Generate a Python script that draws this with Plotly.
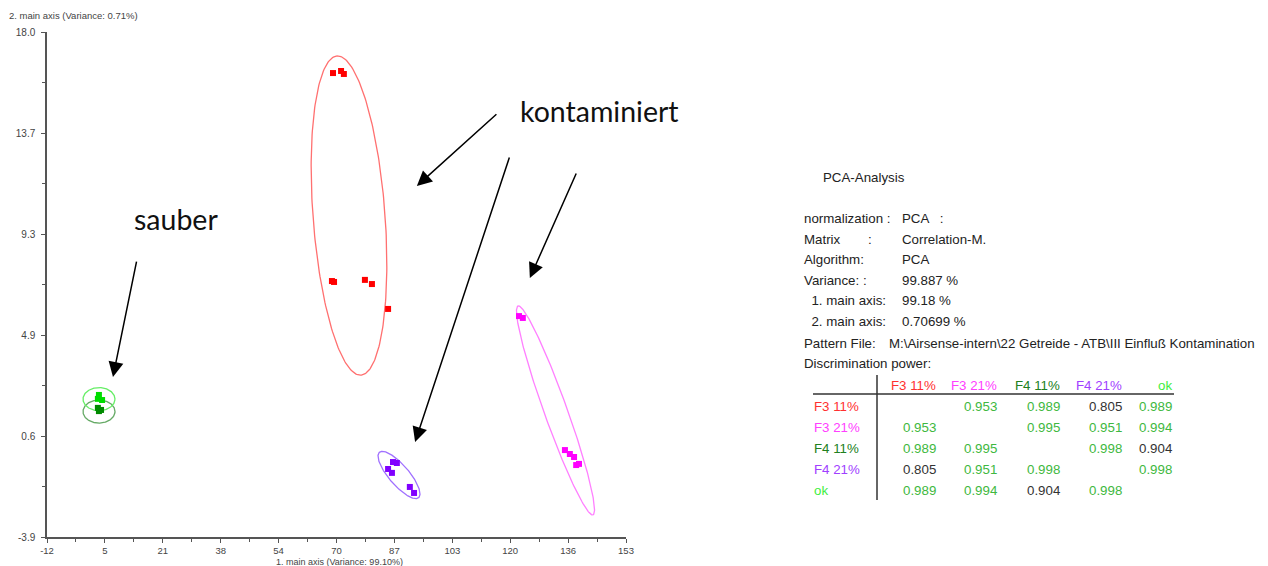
import numpy as np
import plotly.graph_objects as go

# ---------------- data ----------------
groups = ["F3 11%", "F3 21%", "F4 11%", "F4 21%", "ok"]

f3_11_x = [69.5, 71.8, 72.6, 69.2, 69.8, 78.6, 80.6, 85.2]
f3_11_y = [16.22, 16.31, 16.18, 7.20, 7.16, 7.25, 7.07, 5.99]

f3_21_x = [122.5, 123.6, 135.6, 137.0, 138.2, 138.8, 139.6]
f3_21_y = [5.68, 5.60, -0.13, -0.30, -0.43, -0.78, -0.73]

f4_11_x = [2.5, 3.4, 2.8]
f4_11_y = [1.70, 1.61, 1.56]

f4_21_x = [86.6, 87.7, 85.2, 86.3, 91.4, 92.6]
f4_21_y = [-0.65, -0.69, -0.95, -1.12, -1.73, -1.99]

ok_x = [2.8, 2.5, 3.7]
ok_y = [2.26, 2.09, 2.04]

# confidence ellipses: centre and two conjugate semi-diameters (data units)
ell_center_x = [74.06, 132.91, 2.82, 88.31, 2.82]
ell_center_y = [10.04, 1.59, 1.54, -1.21, 2.08]
ell_u = [(-3.42, 6.92), (-10.69, 4.53), (4.56, 0.0), (5.58, -0.985), (4.56, 0.0)]
ell_v = [(10.23, 0.117), (3.08, 0.169), (0.0, 0.50), (-2.16, -0.283), (0.0, 0.50)]

x_tick_labels = ["-12", "5", "21", "38", "54", "70", "87", "103", "120", "136", "153"]
y_tick_labels = ["-3.9", "0.6", "4.9", "9.3", "13.7", "18.0"]
x_range = [-12, 153]
y_range = [-3.9, 18.0]

info_labels = ["normalization :", "Matrix", "Algorithm:", "Variance: :",
               "  1. main axis:", "  2. main axis:", "Pattern File:"]
info_values = ["PCA   :", "Correlation-M.", "PCA", "99.887 %", "99.18 %",
               "0.70699 %", "M:\\Airsense-intern\\22 Getreide - ATB\\III Einfluß Kontamination"]

disc_power = [
    [None, 0.953, 0.989, 0.805, 0.989],
    [0.953, None, 0.995, 0.951, 0.994],
    [0.989, 0.995, None, 0.998, 0.904],
    [0.805, 0.951, 0.998, None, 0.998],
    [0.989, 0.994, 0.904, 0.998, None],
]

# ---------------- style ----------------
marker_colors = ["#ff0000", "#ff00ff", "#008a00", "#8000ff", "#00dd00"]
ellipse_colors = ["#ff7070", "#ff80ff", "#66aa66", "#a070ff", "#66ee66"]
header_colors = ["#ff3030", "#ff40ff", "#208020", "#a040ff", "#40ee40"]
good_color = "#40b840"
bad_color = "#333333"
PANEL_FONT = "Liberation Sans, Arial, sans-serif"
PSIZE = 13.3

OFF = 8                      # default page margin around the figure
W, H = 1268 - OFF, 566 - OFF
L, R, T, B = 47, 626, 32, 537  # plot area in page pixels


def px(p):
    return (p - L) / (R - L)


def py(p):
    return (B - p) / (B - T)


fig = go.Figure()

xs = [f3_11_x, f3_21_x, f4_11_x, f4_21_x, ok_x]
ys = [f3_11_y, f3_21_y, f4_11_y, f4_21_y, ok_y]

t = np.linspace(0, 2 * np.pi, 240)
for i in range(5):
    cx, cy = ell_center_x[i], ell_center_y[i]
    ux, uy = ell_u[i]
    vx, vy = ell_v[i]
    fig.add_trace(go.Scatter(
        x=cx + ux * np.cos(t) + vx * np.sin(t),
        y=cy + uy * np.cos(t) + vy * np.sin(t),
        mode="lines", line=dict(color=ellipse_colors[i], width=1.3),
        hoverinfo="skip", showlegend=False))

for i in range(5):
    fig.add_trace(go.Scatter(
        x=xs[i], y=ys[i], mode="markers", name=groups[i],
        marker=dict(symbol="square", size=6, color=marker_colors[i], line=dict(width=0)),
        showlegend=False))

x_tickvals = list(np.linspace(x_range[0], x_range[1], len(x_tick_labels)))
y_tickvals = list(np.linspace(y_range[0], y_range[1], len(y_tick_labels)))
x_minor = [(a + b) / 2 for a, b in zip(x_tickvals[:-1], x_tickvals[1:])]
y_minor = [(a + b) / 2 for a, b in zip(y_tickvals[:-1], y_tickvals[1:])]

axis_common = dict(showgrid=False, zeroline=False, showline=True, linecolor="#555555",
                   linewidth=1.5, ticks="outside", ticklen=4, tickcolor="#555555", automargin=False)
tick_font = dict(family="Liberation Sans, Arial, sans-serif", size=10, color="#444444")

fig.update_xaxes(range=x_range, tickmode="array", tickvals=x_tickvals, ticktext=x_tick_labels,
                 minor=dict(tickvals=x_minor, ticks="outside", ticklen=3, tickcolor="#555555"),
                 ticklabelstandoff=0, tickfont=dict(tick_font, size=9.5), **axis_common)
fig.update_yaxes(range=y_range, tickmode="array", tickvals=y_tickvals, ticktext=y_tick_labels,
                 minor=dict(tickvals=y_minor, ticks="outside", ticklen=3, tickcolor="#555555"),
                 ticklabelstandoff=4, tickfont=tick_font, **axis_common)

ann = []
small = dict(family="Liberation Sans, Arial, sans-serif", size=9.5, color="#444444")
ann.append(dict(text="2. main axis (Variance: 0.71%)", xref="paper", yref="paper",
                x=px(7), y=py(16), xanchor="left", yanchor="middle", showarrow=False, font=small))
ann.append(dict(text="1. main axis (Variance: 99.10%)", xref="paper", yref="paper",
                x=px(340), y=py(562), xanchor="center", yanchor="middle", showarrow=False,
                font=dict(family="Liberation Sans, Arial, sans-serif", size=9, color="#444444"),
                borderpad=0))

# callouts
big = dict(family="Lato, Open Sans, sans-serif", size=28.5, color="#111111")
ann.append(dict(text="sauber", xref="paper", yref="paper", x=px(176), y=py(219),
                xanchor="center", yanchor="middle", showarrow=False, font=big))
ann.append(dict(text="kontaminiert", xref="paper", yref="paper", x=px(599), y=py(111),
                xanchor="center", yanchor="middle", showarrow=False, font=big))
arrows = [((6.8, 3.04), (13.6, 8.11)),
          ((93.4, 11.32), (116.5, 14.49)),
          ((92.9, 0.22), (119.9, 12.62)),
          ((125.6, 7.33), (139.0, 11.93))]
for (hx, hy), (tx, ty) in arrows:
    ann.append(dict(x=hx, y=hy, ax=tx, ay=ty, xref="x", yref="y", axref="x", ayref="y",
                    text="", showarrow=True, arrowhead=2, arrowsize=2.0, arrowwidth=1.5,
                    arrowcolor="#000000", standoff=0))

# right panel
txt = dict(family=PANEL_FONT, size=PSIZE, color="#222222")
ann.append(dict(text="PCA-Analysis", xref="paper", yref="paper", x=px(821), y=py(177),
                xanchor="left", yanchor="middle", showarrow=False, font=txt))
row_y = [218, 239, 260, 280, 300, 321, 343]
for i, (lab, val) in enumerate(zip(info_labels, info_values)):
    ann.append(dict(text=lab.replace(" ", "\u00a0"), xref="paper", yref="paper", x=px(802), y=py(row_y[i]),
                    xanchor="left", yanchor="middle", showarrow=False, font=txt))
    vx = 887 if i == 6 else 900
    ann.append(dict(text=val, xref="paper", yref="paper", x=px(vx), y=py(row_y[i]),
                    xanchor="left", yanchor="middle", showarrow=False, font=txt))
ann.append(dict(text=":", xref="paper", yref="paper", x=px(866), y=py(239),
                xanchor="left", yanchor="middle", showarrow=False, font=txt))
ann.append(dict(text="Discrimination power:", xref="paper", yref="paper", x=px(802), y=py(364),
                xanchor="left", yanchor="middle", showarrow=False, font=txt))

col_right = [938, 999, 1062, 1124, 1174]
head_y = 385
rows_y = [406, 427, 448, 469, 490]
for j, g in enumerate(groups):
    ann.append(dict(text=g, xref="paper", yref="paper", x=px(col_right[j]), y=py(head_y),
                    xanchor="right", yanchor="middle", showarrow=False,
                    font=dict(family=PANEL_FONT, size=PSIZE, color=header_colors[j])))
for i, g in enumerate(groups):
    ann.append(dict(text=g, xref="paper", yref="paper", x=px(812), y=py(rows_y[i]),
                    xanchor="left", yanchor="middle", showarrow=False,
                    font=dict(family=PANEL_FONT, size=PSIZE, color=header_colors[i])))
    for j in range(5):
        v = disc_power[i][j]
        if v is None:
            continue
        ann.append(dict(text=f"{v:.3f}", xref="paper", yref="paper", x=px(col_right[j]), y=py(rows_y[i]),
                        xanchor="right", yanchor="middle", showarrow=False,
                        font=dict(family=PANEL_FONT, size=PSIZE, color=good_color if v >= 0.95 else bad_color)))

shapes = [
    dict(type="line", xref="paper", yref="paper", x0=px(877), x1=px(877), y0=py(375), y1=py(500),
         line=dict(color="#333333", width=1.5)),
    dict(type="line", xref="paper", yref="paper", x0=px(813), x1=px(1174), y0=py(394), y1=py(394),
         line=dict(color="#333333", width=1.5)),
]

fig.update_layout(width=W, height=H,
                  margin=dict(l=L - OFF, r=(W + OFF) - R, t=T - OFF, b=(H + OFF) - B, pad=0),
                  plot_bgcolor="white", paper_bgcolor="white", showlegend=False,
                  annotations=ann, shapes=shapes)

fig.write_html("out.html")
